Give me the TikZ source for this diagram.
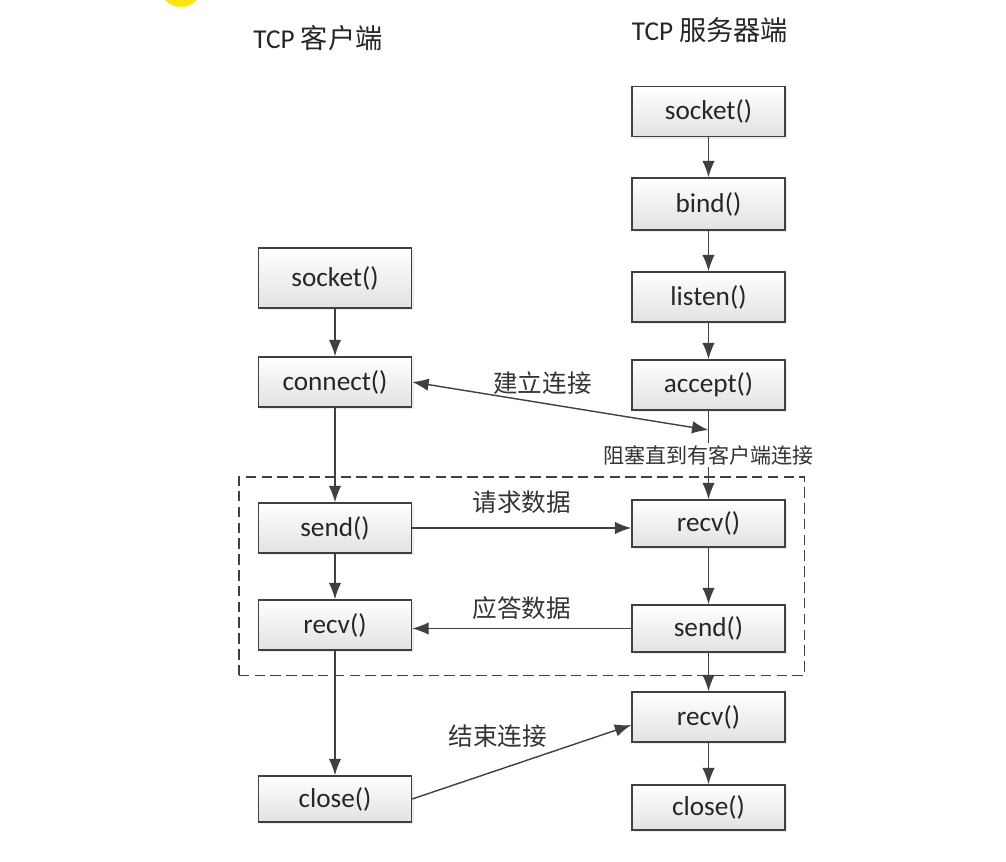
\documentclass[tikz,border=0pt]{standalone}
\usepackage{fontspec}
\setmainfont{Carlito}
\newfontfamily\cjk{Noto Sans CJK SC}
\usetikzlibrary{positioning}
\usetikzlibrary{arrows.meta}
\usetikzlibrary{fit}
\usetikzlibrary{shadows}
\definecolor{linegray}{RGB}{64,64,64}
\definecolor{boxgray}{RGB}{226,226,226}
\definecolor{sunyellow}{RGB}{255,228,20}

\begin{document}
\begin{tikzpicture}
\fontsize{14}{16}\selectfont

% used shapes
\tikzstyle{block} = [rectangle, draw=linegray, line width=0.8pt, top color=white, bottom color=boxgray, minimum width=3.06cm, minimum height=1cm, text centered, text=black!85, font=\fontsize{15.5}{18}\selectfont, drop shadow={opacity=0.15, shadow xshift=1.2pt, shadow yshift=-1.2pt}]
\tikzstyle{arrowline} = [draw=linegray, line width=0.8pt, -{Latex[length=3.3mm,width=2.5mm]}]
\tikzstyle{cjktext} = [text=black!80, font=\cjk]

\useasboundingbox (0,0) rectangle (20.12,-17.24);

\fill[sunyellow] (3.62,0.296) circle (0.436);

% headers
\node [text=black!85, font=\fontsize{15.5}{18}\selectfont] (chead) at (6.36,-0.76) {TCP {\cjk 客户端}};
\node [text=black!85, font=\fontsize{15.5}{18}\selectfont] (shead) at (14.2,-0.6) {TCP {\cjk 服务器端}};

% client side
\node [block, minimum height=1.2cm] (csocket) at (6.7,-5.56) {socket()};
\node [block] (cconnect) at (6.7,-7.64) {connect()};
\node [block] (csend) at (6.7,-10.56) {send()};
\node [block] (crecv) at (6.7,-12.5) {recv()};
\node [block, minimum height=0.92cm] (cclose) at (6.7,-15.98) {close()};

% server side
\node [block] (ssocket) at (14.17,-2.23) {socket()};
\node [block, minimum height=1.04cm] (sbind) at (14.17,-4.08) {bind()};
\node [block] (slisten) at (14.17,-5.94) {listen()};
\node [block] (saccept) at (14.17,-7.7) {accept()};
\node [block, minimum height=0.94cm] (srecv) at (14.17,-10.47) {recv()};
\node [block, minimum height=0.94cm] (ssend) at (14.17,-12.57) {send()};
\node [block] (srecvb) at (14.17,-14.34) {recv()};
\node [block, minimum height=0.9cm] (sclose) at (14.17,-16.15) {close()};

% data exchange
\node [draw=linegray, line width=0.8pt, dash pattern=on 6pt off 3pt, inner xsep=0.38cm, inner ysep=0.45cm, fit=(csend)(crecv)(srecv)(ssend)] (session) {};

\coordinate (waitpt) at (14.17,-8.6);

\draw [arrowline] (csocket) -- (cconnect);
\draw [arrowline] (cconnect) -- (csend);
\draw [arrowline] (csend) -- (crecv);
\draw [arrowline] (crecv) -- (cclose);

\draw [arrowline] (ssocket) -- (sbind);
\draw [arrowline] (sbind) -- (slisten);
\draw [arrowline] (slisten) -- (saccept);
\draw [arrowline] (saccept) -- node [cjktext, fill=white, inner sep=1pt, font=\cjk\fontsize{12}{14}\selectfont] {阻塞直到有客户端连接} (srecv);
\draw [arrowline] (srecv) -- (ssend);
\draw [arrowline] (ssend) -- (srecvb);
\draw [arrowline] (srecvb) -- (sclose);

\draw [arrowline, {Latex[length=3.3mm,width=2.5mm]}-{Latex[length=3.3mm,width=2.5mm]}] (cconnect.east) -- node [cjktext, pos=0.44, above] {建立连接} (waitpt);
\draw [arrowline] (csend) -- node [cjktext, above=3pt] {请求数据} (csend -| srecv.west);
\draw [arrowline] (ssend) -- node [cjktext, above] {应答数据} (ssend -| crecv.east);
\draw [arrowline] (cclose.east) -- node [cjktext, pos=0.39, above=8pt] {结束连接} ([yshift=-0.16cm]srecvb.west);

\end{tikzpicture}
\end{document}
